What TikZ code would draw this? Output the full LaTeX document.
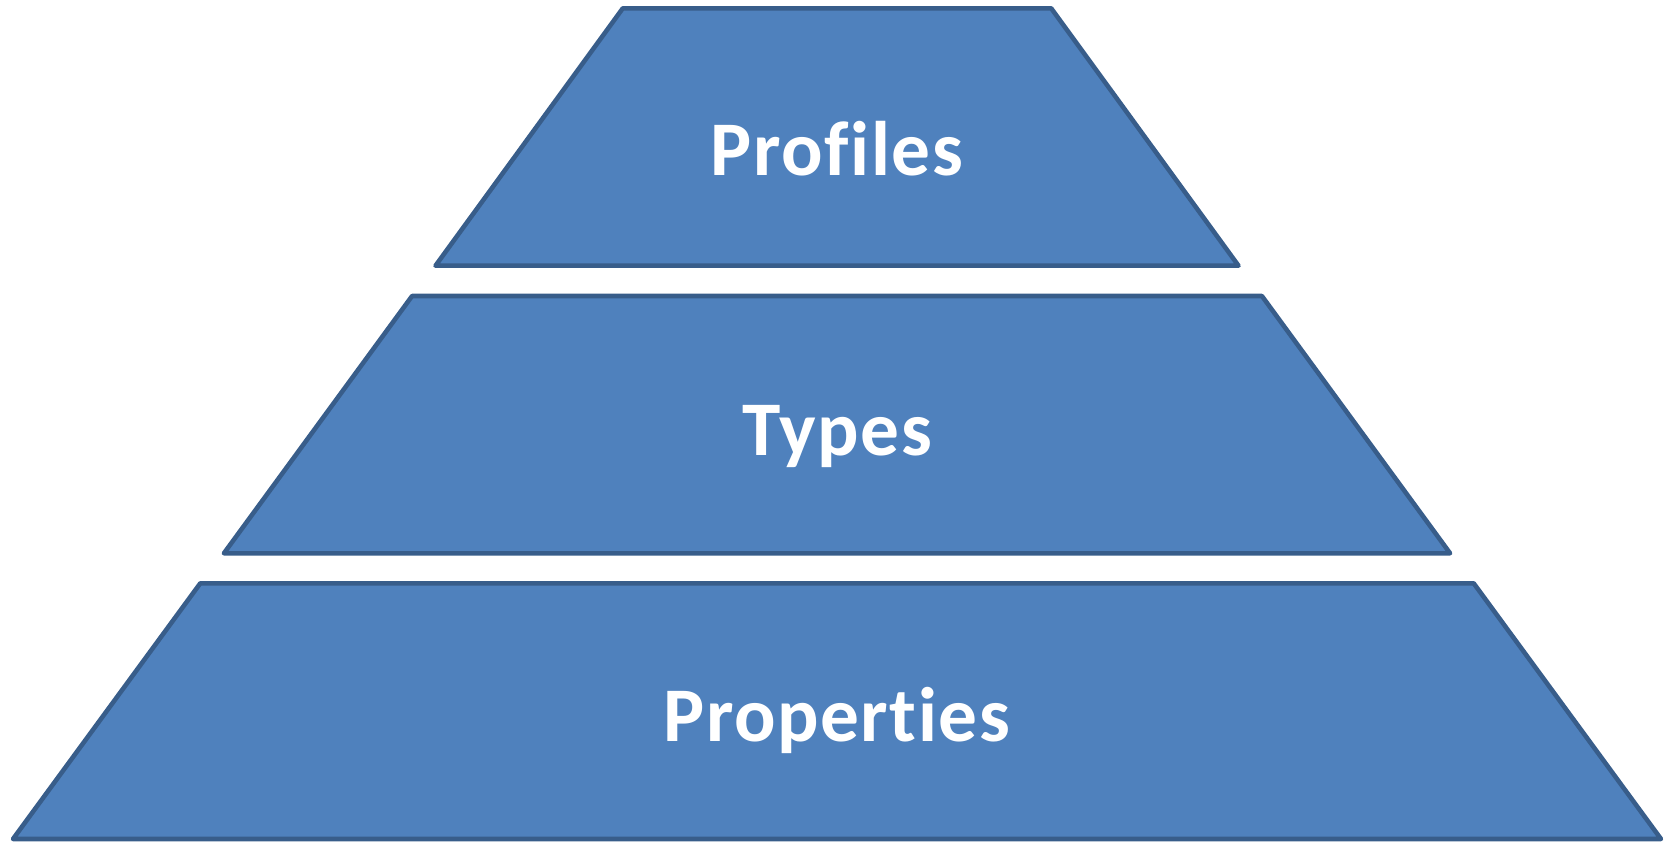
\documentclass[tikz,border=0pt]{standalone}
\usepackage{fontspec}
\setmainfont{Carlito}[Ligatures=NoCommon, LetterSpace=2]
\definecolor{tierfill}{HTML}{4F81BD}
\definecolor{tierline}{HTML}{385D8A}
\tikzset{tier/.style={draw=tierline, fill=tierfill, line width=1.3pt, line join=round},
         tierlabel/.style={text=white, anchor=base, inner sep=0pt, font=\bfseries\fontsize{22}{26}\selectfont}}

\begin{document}
\begin{tikzpicture}
   \useasboundingbox (0,0) rectangle (16.67,8.42);
   \begin{scope}[xshift=8.37cm]
    % top tier
    \draw[tier] (-2.142,8.337) -- (2.142,8.337) -- (4.015,5.763) -- (-4.015,5.763) -- cycle;
    \node[tierlabel] (profiles) at (0,6.67) {Profiles};
    % middle tier
    \draw[tier] (-4.249,5.460) -- (4.249,5.460) -- (6.131,2.887) -- (-6.131,2.887) -- cycle;
    \node[tierlabel] (types) at (0,3.87) {Types};
    % bottom tier
    \draw[tier] (-6.367,2.587) -- (6.367,2.587) -- (8.240,0.030) -- (-8.240,0.030) -- cycle;
    \node[tierlabel] (properties) at (0,1.003) {Properties};
   \end{scope}
  \end{tikzpicture}
\end{document}
